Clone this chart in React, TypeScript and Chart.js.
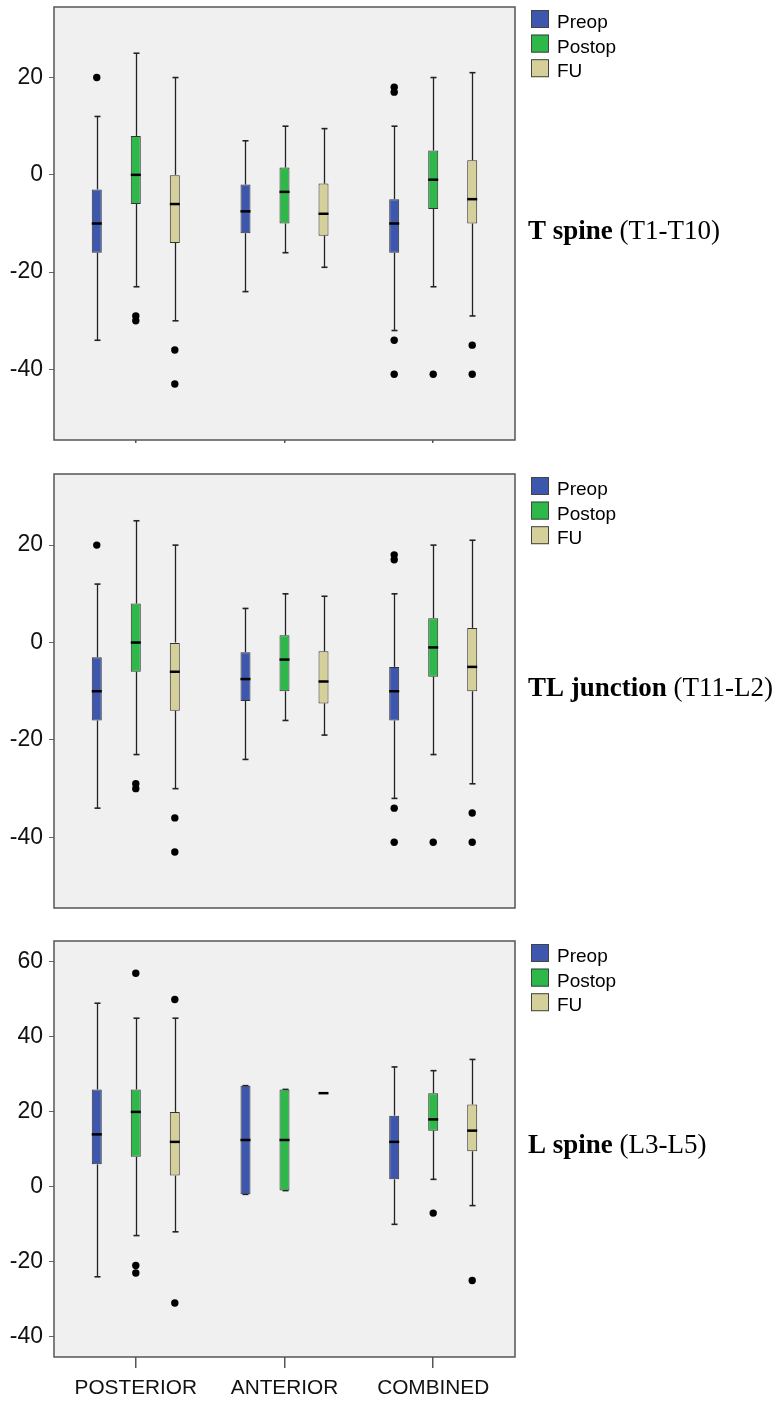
import React, { useEffect, useRef } from 'react';
import { Chart, registerables } from 'chart.js';

Chart.register(...registerables);

const categories = ['POSTERIOR', 'ANTERIOR', 'COMBINED'];
const seriesNames = ['Preop', 'Postop', 'FU'];
const seriesColors = ['#3D56AE', '#2FB84A', '#D5D09A'];

// Each entry: [min whisker, Q1, median, Q3, max whisker] for POSTERIOR, ANTERIOR, COMBINED
const tSpinePreop = [[-34, -16, -10, -3, 12], [-24, -12, -7.5, -2, 7], [-32, -16, -10, -5, 10]];
const tSpinePostop = [[-23, -6, 0, 8, 25], [-16, -10, -3.5, 1.5, 10], [-23, -7, -1, 5, 20]];
const tSpineFU = [[-30, -14, -6, 0, 20], [-19, -12.5, -8, -1.8, 9.5], [-29, -10, -5, 3, 21]];
const tSpinePreopOutliers = [[20], [], [18, 17, -34, -41]];
const tSpinePostopOutliers = [[-29, -30], [], [-41]];
const tSpineFUOutliers = [[-36, -43], [], [-35, -41]];

const tlPreop = [[-34, -16, -10, -3, 12], [-24, -12, -7.5, -2, 7], [-32, -16, -10, -5, 10]];
const tlPostop = [[-23, -6, 0, 8, 25], [-16, -10, -3.5, 1.5, 10], [-23, -7, -1, 5, 20]];
const tlFU = [[-30, -14, -6, 0, 20], [-19, -12.5, -8, -1.8, 9.5], [-29, -10, -5, 3, 21]];
const tlPreopOutliers = [[20], [], [18, 17, -34, -41]];
const tlPostopOutliers = [[-29, -30], [], [-41]];
const tlFUOutliers = [[-36, -43], [], [-35, -41]];

const lSpinePreop = [[-24, 6, 14, 26, 49], [-2, -2, 12.5, 27, 27], [-10, 2, 12, 19, 32]];
const lSpinePostop = [[-13, 8, 20, 26, 45], [-1, -1, 12.5, 26, 26], [2, 15, 18, 25, 31]];
const lSpineFU = [[-12, 3, 12, 20, 45], [25, 25, 25, 25, 25], [-5, 9.5, 15, 22, 34]];
const lSpinePreopOutliers = [[], [], []];
const lSpinePostopOutliers = [[57, -21, -23], [], [-7]];
const lSpineFUOutliers = [[50, -31], [], [-25]];

const tYTicks = [-40, -20, 0, 20];
const lYTicks = [-40, -20, 0, 20, 40, 60];

type PanelCfg = {
  titleBold: string;
  titleRest: string;
  series: number[][][];
  outliers: number[][][];
  yMin: number;
  yMax: number;
  yTicks: number[];
  showXLabels: boolean;
  xTickLen: number;
  top: number;
  height: number;
  padTop: number;
  xAxisHeight: number;
  titleOffset: number;
};

const panels: PanelCfg[] = [
  {
    titleBold: 'T spine', titleRest: ' (T1-T10)',
    series: [tSpinePreop, tSpinePostop, tSpineFU],
    outliers: [tSpinePreopOutliers, tSpinePostopOutliers, tSpineFUOutliers],
    yMin: -54.5, yMax: 34.5, yTicks: tYTicks, showXLabels: false, xTickLen: 3,
    top: 0, height: 460, padTop: 7, xAxisHeight: 20, titleOffset: 232,
  },
  {
    titleBold: 'TL junction', titleRest: ' (T11-L2)',
    series: [tlPreop, tlPostop, tlFU],
    outliers: [tlPreopOutliers, tlPostopOutliers, tlFUOutliers],
    yMin: -54.5, yMax: 34.6, yTicks: tYTicks, showXLabels: false, xTickLen: 0,
    top: 460, height: 470, padTop: 14, xAxisHeight: 22, titleOffset: 222,
  },
  {
    titleBold: 'L spine', titleRest: ' (L3-L5)',
    series: [lSpinePreop, lSpinePostop, lSpineFU],
    outliers: [lSpinePreopOutliers, lSpinePostopOutliers, lSpineFUOutliers],
    yMin: -45.4, yMax: 65.6, yTicks: lYTicks, showXLabels: true, xTickLen: 11,
    top: 930, height: 471, padTop: 11, xAxisHeight: 44, titleOffset: 212,
  },
];

const SANS = '"Liberation Sans", Arial, sans-serif';
const SERIF = '"Liberation Serif", "Times New Roman", serif';

function BoxPanel({ cfg }: { cfg: PanelCfg }) {
  const ref = useRef<HTMLCanvasElement>(null);

  useEffect(() => {
    const canvas = ref.current;
    if (!canvas) return;

    const line = (ctx: CanvasRenderingContext2D, x1: number, y1: number, x2: number, y2: number) => {
      ctx.beginPath();
      ctx.moveTo(x1, y1);
      ctx.lineTo(x2, y2);
      ctx.stroke();
    };

    const boxPlugin = {
      id: 'boxExtras',
      beforeDraw(chart: any) {
        const { ctx, chartArea: a } = chart;
        ctx.save();
        ctx.fillStyle = '#f0f0f0';
        ctx.fillRect(a.left, a.top, a.right - a.left, a.bottom - a.top);
        ctx.restore();
      },
      beforeDatasetsDraw(chart: any) {
        const { ctx } = chart;
        const ys = chart.scales.y;
        ctx.save();
        ctx.strokeStyle = '#222';
        ctx.lineWidth = 1.3;
        cfg.series.forEach((stats, di) => {
          const meta = chart.getDatasetMeta(di);
          stats.forEach((s, ci) => {
            const el = meta.data[ci];
            if (!el) return;
            const x = Math.round(el.x) + 0.5;
            const [mn, q1, , q3, mx] = s;
            const pMin = ys.getPixelForValue(mn);
            const pQ1 = ys.getPixelForValue(q1);
            const pQ3 = ys.getPixelForValue(q3);
            const pMax = ys.getPixelForValue(mx);
            if (mn < q1) line(ctx, x, pMin, x, pQ1);
            if (mx > q3) line(ctx, x, pQ3, x, pMax);
            if (mn !== mx) {
              ctx.lineWidth = 1.6;
              line(ctx, x - 3, pMin, x + 3, pMin);
              line(ctx, x - 3, pMax, x + 3, pMax);
              ctx.lineWidth = 1.3;
            }
          });
        });
        ctx.restore();
      },
      afterDatasetsDraw(chart: any) {
        const { ctx, chartArea: a } = chart;
        const ys = chart.scales.y;
        ctx.save();
        cfg.series.forEach((stats, di) => {
          const meta = chart.getDatasetMeta(di);
          stats.forEach((s, ci) => {
            const el = meta.data[ci];
            if (!el) return;
            const half = el.width / 2;
            const pMed = ys.getPixelForValue(s[2]);
            ctx.strokeStyle = '#000';
            ctx.lineWidth = 2.5;
            line(ctx, el.x - half, pMed, el.x + half, pMed);
            ctx.fillStyle = '#000';
            cfg.outliers[di][ci].forEach((v) => {
              ctx.beginPath();
              ctx.arc(el.x, ys.getPixelForValue(v), 3.7, 0, Math.PI * 2);
              ctx.fill();
            });
          });
        });
        ctx.strokeStyle = '#555';
        ctx.lineWidth = 1.5;
        ctx.strokeRect(a.left, a.top, a.right - a.left, a.bottom - a.top);
        ctx.restore();
      },
      afterDraw(chart: any) {
        const { ctx, chartArea: a } = chart;
        ctx.save();
        // legend
        ctx.font = `19px ${SANS}`;
        ctx.textBaseline = 'alphabetic';
        seriesNames.forEach((name, i) => {
          const top = a.top + 3 + i * 24.6;
          const left = a.right + 16;
          ctx.fillStyle = seriesColors[i];
          ctx.fillRect(left, top, 18, 18);
          ctx.strokeStyle = '#444';
          ctx.lineWidth = 1;
          ctx.strokeRect(left + 0.5, top + 0.5, 17, 17);
          ctx.fillStyle = '#000';
          ctx.fillText(name, a.right + 42, top + 18);
        });
        // side title
        const tx = a.right + 13;
        const ty = a.top + cfg.titleOffset;
        ctx.fillStyle = '#000';
        ctx.font = `bold 27px ${SERIF}`;
        ctx.fillText(cfg.titleBold, tx, ty);
        const w = ctx.measureText(cfg.titleBold).width;
        ctx.font = `27px ${SERIF}`;
        ctx.fillText(cfg.titleRest, tx + w, ty);
        ctx.restore();
      },
    };

    const datasets = cfg.series.map((stats, di) => ({
      label: seriesNames[di],
      data: stats.map((s, ci) => ({ x: ci, y: [s[1], s[3]] })),
      backgroundColor: seriesColors[di],
      borderColor: '#333',
      borderWidth: 1,
      borderSkipped: false,
      categoryPercentage: 0.787,
      barPercentage: 0.256,
    }));

    const chart = new Chart(canvas, {
      type: 'bar',
      data: { datasets: datasets as any },
      options: {
        animation: false,
        responsive: false,
        events: [],
        layout: { padding: { top: cfg.padTop, right: 264, bottom: 0, left: 0 } },
        plugins: { legend: { display: false }, tooltip: { enabled: false } },
        scales: {
          x: {
            type: 'linear',
            min: -0.55,
            max: 2.55,
            offset: false,
            afterBuildTicks: (s: any) => {
              s.ticks = categories.map((_, i) => ({ value: i }));
            },
            afterFit: (s: any) => {
              s.height = cfg.xAxisHeight;
              s.paddingLeft = 0;
              s.paddingRight = 0;
              s.paddingTop = 0;
              s.paddingBottom = 0;
            },
            grid: {
              display: cfg.xTickLen > 0,
              offset: false,
              drawOnChartArea: false,
              drawTicks: true,
              tickLength: cfg.xTickLen,
              color: '#555',
              lineWidth: 1.5,
            },
            border: { display: false },
            ticks: {
              display: cfg.showXLabels,
              autoSkip: false,
              maxRotation: 0,
              padding: 8,
              color: '#111',
              font: { family: SANS, size: 20.8 },
              callback: (v: any) => categories[Math.round(Number(v))] ?? '',
            },
          },
          y: {
            type: 'linear',
            min: cfg.yMin,
            max: cfg.yMax,
            bounds: 'data',
            afterBuildTicks: (s: any) => {
              s.ticks = cfg.yTicks.map((v) => ({ value: v }));
            },
            afterFit: (s: any) => {
              s.width = 54;
              s.paddingTop = 0;
              s.paddingBottom = 0;
              s.paddingLeft = 0;
              s.paddingRight = 0;
            },
            grid: {
              drawOnChartArea: false,
              drawTicks: true,
              tickLength: 5,
              color: '#666',
              lineWidth: 1,
            },
            border: { display: false },
            ticks: {
              autoSkip: false,
              padding: 6,
              color: '#111',
              font: { family: SANS, size: 23 },
              callback: (v: any) => String(v),
            },
          },
        },
      } as any,
      plugins: [boxPlugin],
    });

    return () => chart.destroy();
  }, [cfg]);

  return (
    <canvas
      ref={ref}
      width={779}
      height={cfg.height}
      style={{ position: 'absolute', left: 0, top: cfg.top, width: 779, height: cfg.height, display: 'block' }}
    />
  );
}

export default function App() {
  return (
    <div style={{ position: 'absolute', left: 0, top: 0, width: 779, height: 1401, background: '#fff' }}>
      {panels.map((p, i) => (
        <BoxPanel key={i} cfg={p} />
      ))}
    </div>
  );
}
